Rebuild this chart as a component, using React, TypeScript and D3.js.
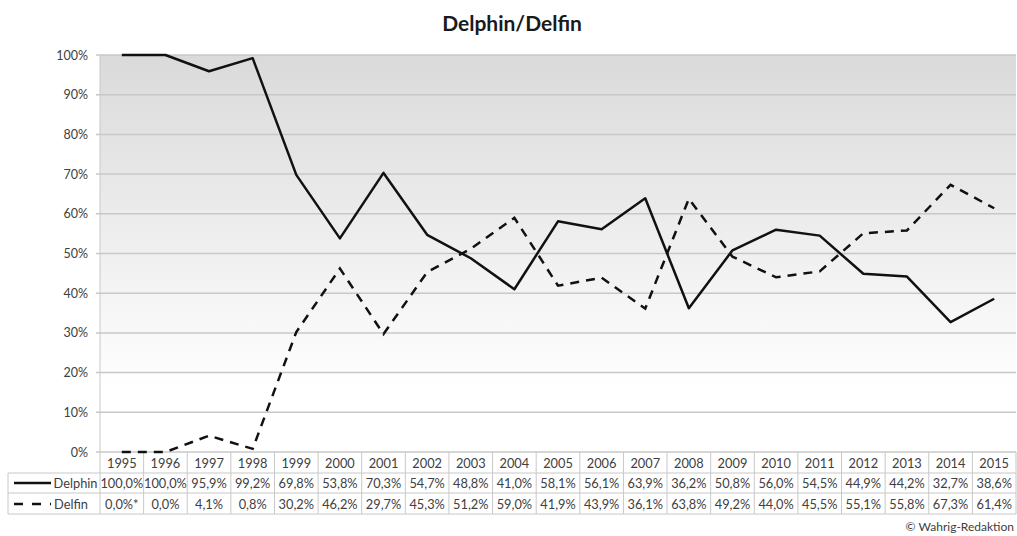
import React from "react";
import * as d3 from "d3";

const years = ["1995","1996","1997","1998","1999","2000","2001","2002","2003","2004","2005","2006","2007","2008","2009","2010","2011","2012","2013","2014","2015"];
const delphin = [100.0,100.0,95.9,99.2,69.8,53.8,70.3,54.7,48.8,41.0,58.1,56.1,63.9,36.2,50.8,56.0,54.5,44.9,44.2,32.7,38.6];
const delfin = [0.0,0.0,4.1,0.8,30.2,46.2,29.7,45.3,51.2,59.0,41.9,43.9,36.1,63.8,49.2,44.0,45.5,55.1,55.8,67.3,61.4];
const delfinLabels = ["0,0%*","0,0%","4,1%","0,8%","30,2%","46,2%","29,7%","45,3%","51,2%","59,0%","41,9%","43,9%","36,1%","63,8%","49,2%","44,0%","45,5%","55,1%","55,8%","67,3%","61,4%"];
const yTicks = [0,10,20,30,40,50,60,70,80,90,100];

const W = 1017, H = 536;
const left = 100, right = 1016, top = 55, bottom = 452;
const rowH = [452, 473, 493, 514];
const FONT = "Lato, 'Open Sans', sans-serif";

export default function App() {
  const x = d3.scaleBand().domain(years).range([left, right]);
  const y = d3.scaleLinear().domain([0, 100]).range([bottom, top]);
  const cx = (d: string) => (x(d) as number) + x.bandwidth() / 2;
  const line = d3.line<number>().x((_, i) => cx(years[i])).y((v) => y(v));
  const fmt = (v: number) => v.toFixed(1).replace(".", ",") + "%";
  const textCol = "#404040";
  const fs = 12.8;
  return (
    <svg width={W} height={H} style={{ position: "absolute", left: 0, top: 0 }}>
      <defs>
        <linearGradient id="bg" x1="0" y1="0" x2="0" y2="1">
          <stop offset="0" stopColor="#dadada" />
          <stop offset="0.85" stopColor="#ffffff" />
          <stop offset="1" stopColor="#ffffff" />
        </linearGradient>
      </defs>
      <rect x={0} y={0} width={W} height={H} fill="#fff" />
      <text x={512} y={31} textAnchor="middle" fontFamily={FONT} fontWeight="bold" fontSize={21} fill="#1a1a1a">Delphin/Delfin</text>
      <rect x={left} y={top} width={right - left} height={bottom - top} fill="url(#bg)" />
      {yTicks.map((t) => (
        <g key={t}>
          <line x1={left - 4} x2={right} y1={y(t)} y2={y(t)} stroke="#c8c8c8" strokeWidth={1.5} />
          <text x={88} y={y(t) + 4.5} textAnchor="end" fontFamily={FONT} fontSize={12.5} fill={textCol}>{t}%</text>
        </g>
      ))}
      <line x1={left} x2={left} y1={top} y2={bottom} stroke="#c8c8c8" strokeWidth={1} />
      {/* table */}
      <line x1={8} x2={right} y1={rowH[1]} y2={rowH[1]} stroke="#c8c8c8" strokeWidth={1} />
      <line x1={8} x2={right} y1={rowH[2]} y2={rowH[2]} stroke="#c8c8c8" strokeWidth={1} />
      <line x1={8} x2={right} y1={rowH[3]} y2={rowH[3]} stroke="#c8c8c8" strokeWidth={1} />
      <line x1={8} x2={8} y1={rowH[1]} y2={rowH[3]} stroke="#c8c8c8" strokeWidth={1} />
      {years.map((yr) => (
        <line key={"v" + yr} x1={(x(yr) as number) + x.bandwidth()} x2={(x(yr) as number) + x.bandwidth()} y1={rowH[0]} y2={rowH[3]} stroke="#c8c8c8" strokeWidth={1} />
      ))}
      <line x1={left} x2={left} y1={rowH[0]} y2={rowH[3]} stroke="#c8c8c8" strokeWidth={1} />
      {years.map((yr, i) => (
        <g key={"t" + yr} fontFamily={FONT} fontSize={fs} fill={textCol} textAnchor="middle">
          <text x={cx(yr)} y={rowH[0] + 15.5}>{yr}</text>
          <text x={cx(yr)} y={rowH[1] + 15}>{fmt(delphin[i])}</text>
          <text x={cx(yr)} y={rowH[2] + 15.5}>{delfinLabels[i]}</text>
        </g>
      ))}
      <line x1={14} x2={51} y1={483} y2={483} stroke="#111" strokeWidth={2.5} />
      <text x={97.5} y={rowH[1] + 15} textAnchor="end" fontFamily={FONT} fontSize={fs} fill={textCol}>Delphin</text>
      <line x1={14} x2={51} y1={504} y2={504} stroke="#111" strokeWidth={2.5} strokeDasharray="9 9" />
      <text x={54} y={rowH[2] + 15.5} textAnchor="start" fontFamily={FONT} fontSize={fs} fill={textCol}>Delfin</text>
      {/* lines */}
      <path d={line(delphin) || ""} fill="none" stroke="#111" strokeWidth={2.5} strokeLinejoin="round" />
      <path d={line(delfin) || ""} fill="none" stroke="#111" strokeWidth={2.5} strokeDasharray="9 7" />
      <text x={1014} y={531} textAnchor="end" fontFamily={FONT} fontSize={12} fill={textCol}>© Wahrig-Redaktion</text>
    </svg>
  );
}
